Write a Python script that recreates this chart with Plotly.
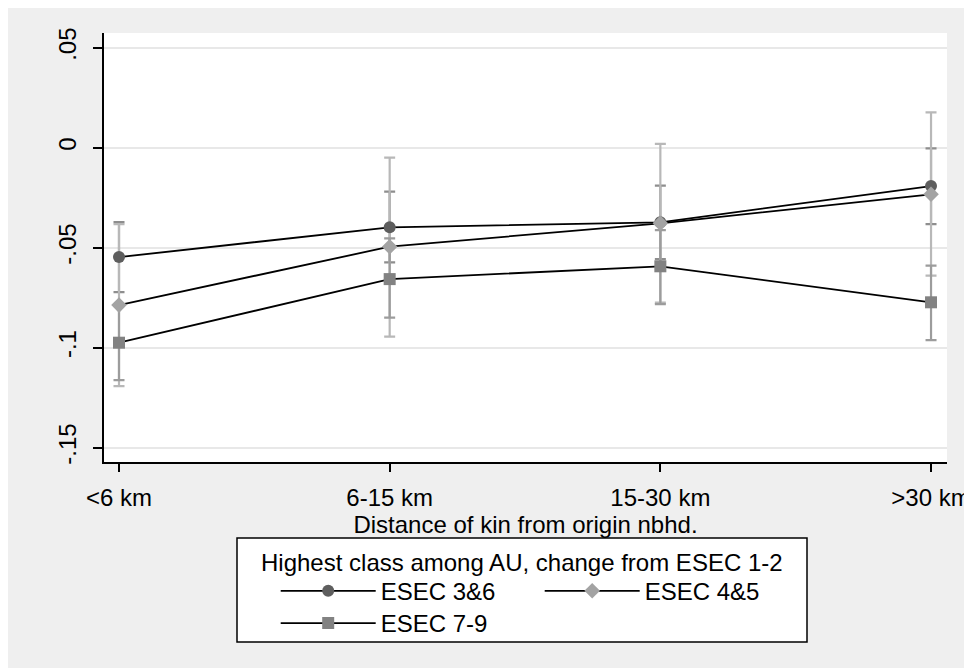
import plotly.graph_objects as go

# ---- data ----
categories = ["<6 km", "6-15 km", "15-30 km", ">30 km"]

esec36 = [-0.0547, -0.0398, -0.0373, -0.0192]
esec36_lo = [-0.0722, -0.0573, -0.0557, -0.0382]
esec36_hi = [-0.0372, -0.0220, -0.0190, -0.0003]

esec45 = [-0.0787, -0.0495, -0.0378, -0.0233]
esec45_lo = [-0.1192, -0.0945, -0.0775, -0.0640]
esec45_hi = [-0.0382, -0.0050, 0.0019, 0.0177]

esec79 = [-0.0975, -0.0657, -0.0593, -0.0773]
esec79_lo = [-0.1162, -0.0850, -0.0782, -0.0962]
esec79_hi = [-0.0787, -0.0453, -0.0412, -0.0590]

series_names = ["ESEC 3&6", "ESEC 4&5", "ESEC 7-9"]
ytick_vals = [-0.15, -0.1, -0.05, 0, 0.05]
ytick_text = ["-.15", "-.1", "-.05", "0", ".05"]
legend_title = "Highest class among AU, change from ESEC 1-2"
x_title = "Distance of kin from origin nbhd."

FONT = "Liberation Sans, Arial, sans-serif"
FS = 24

series = [
    (series_names[0], esec36, esec36_lo, esec36_hi, "circle", 12, "#5e5e5e", "#8e8e8e", "legend"),
    (series_names[1], esec45, esec45_lo, esec45_hi, "diamond", 12, "#a3a3a3", "#b8b8b8", "legend"),
    (series_names[2], esec79, esec79_lo, esec79_hi, "square", 12, "#828282", "#9c9c9c", "legend2"),
]

fig = go.Figure()

# confidence intervals first (drawn beneath lines)
for name, est, lo, hi, sym, sz, mcol, ecol, leg in series:
    fig.add_trace(go.Scatter(
        x=categories, y=est, mode="markers",
        marker=dict(size=1, color="rgba(0,0,0,0)"),
        error_y=dict(type="data", symmetric=False,
                     array=[h - e for h, e in zip(hi, est)],
                     arrayminus=[e - l for e, l in zip(est, lo)],
                     color=ecol, thickness=2.2, width=5.5),
        showlegend=False, hoverinfo="skip",
    ))

for name, est, lo, hi, sym, sz, mcol, ecol, leg in series:
    fig.add_trace(go.Scatter(
        x=categories, y=est, mode="lines+markers", name=name, legend=leg,
        line=dict(color="black", width=1.8),
        marker=dict(symbol=sym, size=sz, color=mcol, line=dict(width=0)),
    ))

# geometry: the page is shown with an 8px body margin
OFF = 8
W, H = 972, 668
L, R, T, B = 96, 33, 25, 214
pw, ph = W - L - R, H - T - B

def px(xs):
    return (xs - OFF - L) / pw

def py(ys):
    return (H - B - (ys - OFF)) / ph

legend_common = dict(
    orientation="h", xanchor="left", yanchor="top",
    bgcolor="rgba(0,0,0,0)", borderwidth=0,
    entrywidth=154, entrywidthmode="pixels", itemwidth=95,
    font=dict(size=FS), traceorder="normal",
)

fig.update_layout(
    width=W, height=H,
    margin=dict(l=L, r=R, t=T, b=B, autoexpand=False),
    paper_bgcolor="#efefef", plot_bgcolor="white",
    font=dict(family=FONT, size=FS, color="black"),
    shapes=[
        # legend frame
        dict(type="rect", xref="paper", yref="paper", layer="below",
             x0=px(237), x1=px(807), y0=py(642), y1=py(538),
             fillcolor="white", line=dict(color="black", width=1.5)),
    ],
    annotations=[
        dict(text=legend_title, xref="paper", yref="paper",
             x=px(522), y=py(562), xanchor="center", yanchor="middle",
             showarrow=False, font=dict(size=FS)),
    ],
    xaxis=dict(
        type="category", range=[-0.0554, 3.059],
        showgrid=False, zeroline=False,
        showline=True, linecolor="black", linewidth=1.5,
        ticks="outside", ticklen=8, tickwidth=1.5, tickcolor="black",
        tickfont=dict(size=FS), ticklabelstandoff=5,
        title=dict(text=x_title, font=dict(size=FS), standoff=6),
    ),
    yaxis=dict(
        range=[-0.15715, 0.05735],
        tickvals=ytick_vals, ticktext=ytick_text, tickangle=-90,
        showgrid=True, gridcolor="#e8e8e8", gridwidth=1.5,
        zeroline=False,
        showline=True, linecolor="black", linewidth=1.5,
        ticks="outside", ticklen=9, tickwidth=1.5, tickcolor="black",
        tickfont=dict(size=FS),
        ticklabelstandoff=8,
    ),
    legend=dict(x=px(275.7), y=py(568.7), **legend_common),
    legend2=dict(x=px(275.7), y=py(601), **legend_common),
    showlegend=True,
)

fig.write_html("out.html")
